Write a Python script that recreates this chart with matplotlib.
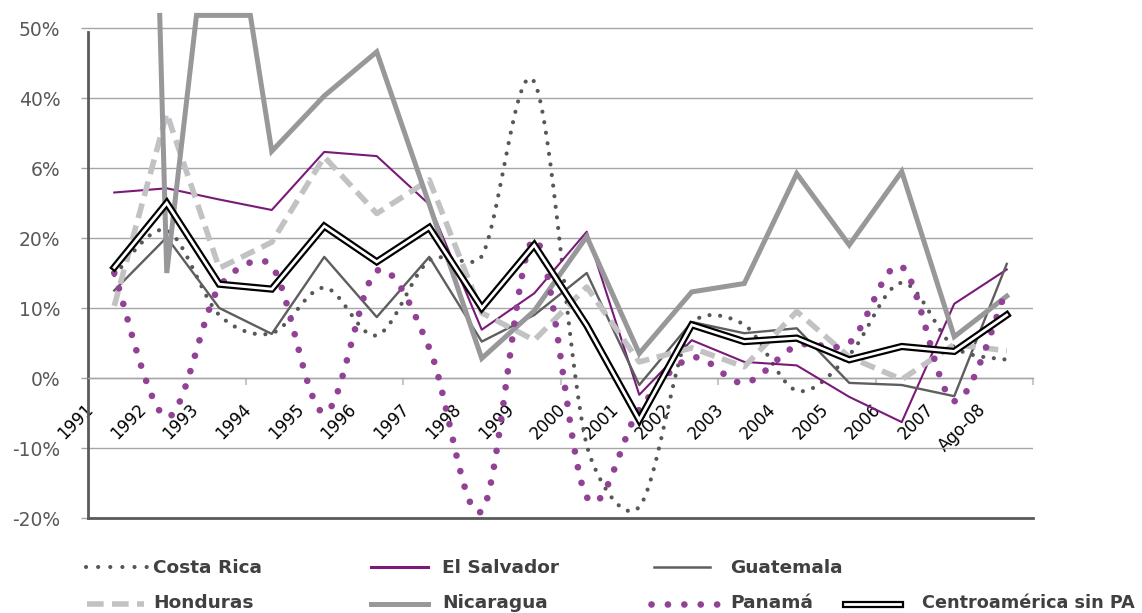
import numpy as np
import matplotlib
matplotlib.use('Agg')
import matplotlib.pyplot as plt
from matplotlib.lines import Line2D
from matplotlib.transforms import ScaledTranslation

plt.rcParams['font.family'] = ['DejaVu Sans']

# ---------------- data ----------------
categories = ['1991', '1992', '1993', '1994', '1995', '1996', '1997', '1998', '1999',
              '2000', '2001', '2002', '2003', '2004', '2005', '2006', '2007', 'Ago-08']
costa_rica = [14.7, 21.1, 9.0, 6.4, 12.9, 6.1, 16.8, 17.4, 42.3, -9.6, -18.4, 7.6, 7.6, -1.8, 3.3, 13.6, 4.4, 2.6]
el_salvador = [26.5, 27.1, 25.5, 24.0, 32.3, 31.7, 24.8, 6.9, 12.1, 20.9, -2.4, 5.4, 2.3, 1.8, -2.7, -6.3, 10.6, 15.5]
guatemala = [12.5, 20.1, 10.0, 6.3, 17.3, 8.7, 17.3, 5.2, 9.0, 15.0, -1.0, 8.0, 6.4, 7.1, -0.7, -1.0, -2.6, 16.3]
honduras = [10.3, 37.8, 15.7, 19.4, 31.6, 23.5, 28.3, 9.3, 5.4, 13.0, 2.3, 4.3, 1.6, 9.5, 3.0, -0.2, 4.8, 3.9]
nicaragua = [290.0, 15.0, 80.0, 32.4, 40.3, 46.6, 24.8, 2.8, 9.6, 20.2, 3.5, 12.3, 13.5, 29.2, 19.0, 29.5, 5.9, 11.7]
panama = [15.0, -5.6, 13.0, 16.0, -5.0, 15.3, 4.3, -19.0, 19.8, -17.0, -4.5, 2.9, -0.7, 4.6, 5.0, 15.9, -3.3, 12.7]
centroamerica = [15.8, 25.0, 13.4, 12.7, 21.7, 16.6, 21.5, 10.0, 19.0, 7.5, -6.0, 7.6, 5.2, 5.7, 2.6, 4.5, 3.8, 9.0]

y_ticks = [-20, -10, 0, 10, 20, 30, 40, 50]
y_tick_labels = ['-20%', '-10%', '0%', '10%', '20%', '6%', '40%', '50%']

series_names = ['Costa Rica', 'El Salvador', 'Guatemala', 'Honduras', 'Nicaragua', 'Panamá',
                'Centroamérica sin PA']

# ---------------- helpers ----------------
PX_PER_CAT, PX_PER_PCT = 52.5, 7.0


def smooth(x, y, n=40, cap=0.35):
    """Excel-like smoothed (Bezier) line through the points."""
    X = np.asarray(x, float) * PX_PER_CAT
    Y = np.asarray(y, float) * PX_PER_PCT
    P = np.column_stack([X, Y])
    N = len(P)
    t = np.linspace(0, 1, n)[1:][:, None]
    out = [P[0]]
    for i in range(N - 1):
        L = np.hypot(*(P[i + 1] - P[i]))
        a1 = (P[i + 1] - P[max(i - 1, 0)]) / 6
        a2 = (P[min(i + 2, N - 1)] - P[i]) / 6
        for a in (a1, a2):
            la = np.hypot(*a)
            if la > cap * L:
                a *= cap * L / la
        c1 = P[i] + a1
        c2 = P[i + 1] - a2
        b = (1 - t) ** 3 * P[i] + 3 * (1 - t) ** 2 * t * c1 + 3 * (1 - t) * t ** 2 * c2 + t ** 3 * P[i + 1]
        out.extend(b)
    out = np.array(out)
    return out[:, 0] / PX_PER_CAT, out[:, 1] / PX_PER_PCT


def clip_top(x, y, top):
    """Excel-like clipping: out-of-range parts run along the top edge."""
    xs, ys = [], []
    started = False
    for i in range(len(x)):
        if i > 0:
            y0, y1 = y[i - 1], y[i]
            if (y0 > top) != (y1 > top):
                t = (top - y0) / (y1 - y0)
                xs.append(x[i - 1] + t * (x[i] - x[i - 1])); ys.append(top)
                started = True
        if y[i] <= top:
            xs.append(x[i]); ys.append(y[i]); started = True
        elif started:
            xs.append(x[i]); ys.append(top)
    return xs, ys


# ---------------- figure ----------------
W, H = 1142, 613
fig = plt.figure(figsize=(W / 100, H / 100), dpi=100)
YTOP = 51.8
ax = fig.add_axes([88 / W, (H - 518) / H, 945 / W, (518 - (378 - YTOP * 7.0)) / H])
ax.set_xlim(-0.5, len(categories) - 0.5)
ax.set_ylim(-20, YTOP)

x = np.arange(len(categories))

c_cr = '#575757'
c_es = '#7A1A78'
c_gu = '#5E5E5E'
c_ho = '#C2C2C4'
c_ni = '#98989B'
c_pa = '#924294'

sx, sy = smooth(x, costa_rica)
ax.plot(sx, sy, color=c_cr, lw=3.0, linestyle=(0, (0.01, 2.55)), dash_capstyle='round', zorder=3)
ax.plot(x, el_salvador, color=c_es, lw=1.5, zorder=3)
ax.plot(x, guatemala, color=c_gu, lw=1.7, zorder=3)
ax.plot(x, honduras, color=c_ho, lw=4.0, linestyle=(0, (2.7, 1.4)), dash_capstyle='butt', zorder=3)
nx, ny = clip_top(x, nicaragua, YTOP)
ax.plot(nx, ny, color=c_ni, lw=3.6, zorder=3, clip_on=False, solid_joinstyle='miter')
px_, py_ = smooth(x, panama)
ax.plot(px_, py_, color=c_pa, lw=4.8, linestyle=(0, (0.01, 2.4)), dash_capstyle='round', zorder=3)
ax.plot(x, centroamerica, color='black', lw=5.2, zorder=4, solid_joinstyle='miter')
ax.plot(x, centroamerica, color='white', lw=2.0, zorder=5, solid_joinstyle='miter')

# ---------------- axes styling ----------------
grid_c = '#A6A6A6'
ax.set_yticks(y_ticks)
ax.set_yticklabels(y_tick_labels)
ax.yaxis.grid(True, color=grid_c, lw=1.0)
ax.set_axisbelow(True)
ax.tick_params(axis='y', length=5, color=grid_c, width=1.0, pad=15,
               labelcolor='#595959', labelsize=13.5)

for s in ['top', 'right']:
    ax.spines[s].set_visible(False)
ax.spines['left'].set_color('#5A5A5A')
ax.spines['left'].set_linewidth(2.0)
ax.spines['left'].set_bounds(-20, 49.5)
ax.spines['bottom'].set_position(('data', 0))
ax.spines['bottom'].set_color(grid_c)
ax.spines['bottom'].set_linewidth(1.0)
ax.axhline(-20, color='#5A5A5A', lw=2.0, clip_on=False, zorder=2)

ax.set_xticks(np.arange(2.5, len(categories), 3))
ax.set_xticklabels([])
ax.set_xticks(x, minor=True)
ax.set_xticklabels(categories, minor=True, rotation=45, ha='right')
ax.tick_params(axis='x', which='major', length=5, width=1.5, color='#C8C8C8', direction='out')
ax.tick_params(axis='x', which='minor', length=0, pad=16, labelsize=12, labelcolor='black')
off = ScaledTranslation(-17 / 100, 0, fig.dpi_scale_trans)
for lab in ax.get_xticklabels(minor=True):
    lab.set_transform(lab.get_transform() + off)

# ---------------- legend (manual) ----------------
def fx(px):
    return px / W


def fy(py):
    return 1 - py / H


leg_txt = dict(fontsize=13.3, fontweight='bold', color='#404040', va='baseline', ha='left')
row1, row2 = 566.5, 604.0
base1, base2 = 573.0, 608.3

entries = [
    (series_names[0], 86, 149, row1, 153, base1, dict(color=c_cr, lw=3.0, linestyle=(0, (0.01, 2.9)), dash_capstyle='round')),
    (series_names[1], 371, 428, row1, 442, base1, dict(color=c_es, lw=2.2)),
    (series_names[2], 654, 710, row1, 730, base1, dict(color=c_gu, lw=1.8)),
    (series_names[3], 87, 144, row2, 153, base2, dict(color=c_ho, lw=4.0, linestyle=(0, (3.0, 1.5)))),
    (series_names[4], 371, 428, row2, 442, base2, dict(color=c_ni, lw=3.6)),
    (series_names[5], 651, 717, row2, 730, base2, dict(color=c_pa, lw=4.8, linestyle=(0, (0.01, 2.45)), dash_capstyle='round')),
]
for name, x0, x1, yy, tx, ty, kw in entries:
    fig.add_artist(Line2D([fx(x0), fx(x1)], [fy(yy), fy(yy)], transform=fig.transFigure, **kw))
    fig.text(fx(tx), fy(ty), name, **leg_txt)

# double-line handle
fig.add_artist(Line2D([fx(845), fx(900)], [fy(row2), fy(row2)], transform=fig.transFigure, color='black', lw=5.2))
fig.add_artist(Line2D([fx(845), fx(900)], [fy(row2), fy(row2)], transform=fig.transFigure, color='white', lw=2.0))
leg_txt_small = dict(leg_txt, fontsize=12.7)
fig.text(fx(922), fy(base2), series_names[6], **leg_txt_small)

fig.savefig('out.png', dpi=100)
